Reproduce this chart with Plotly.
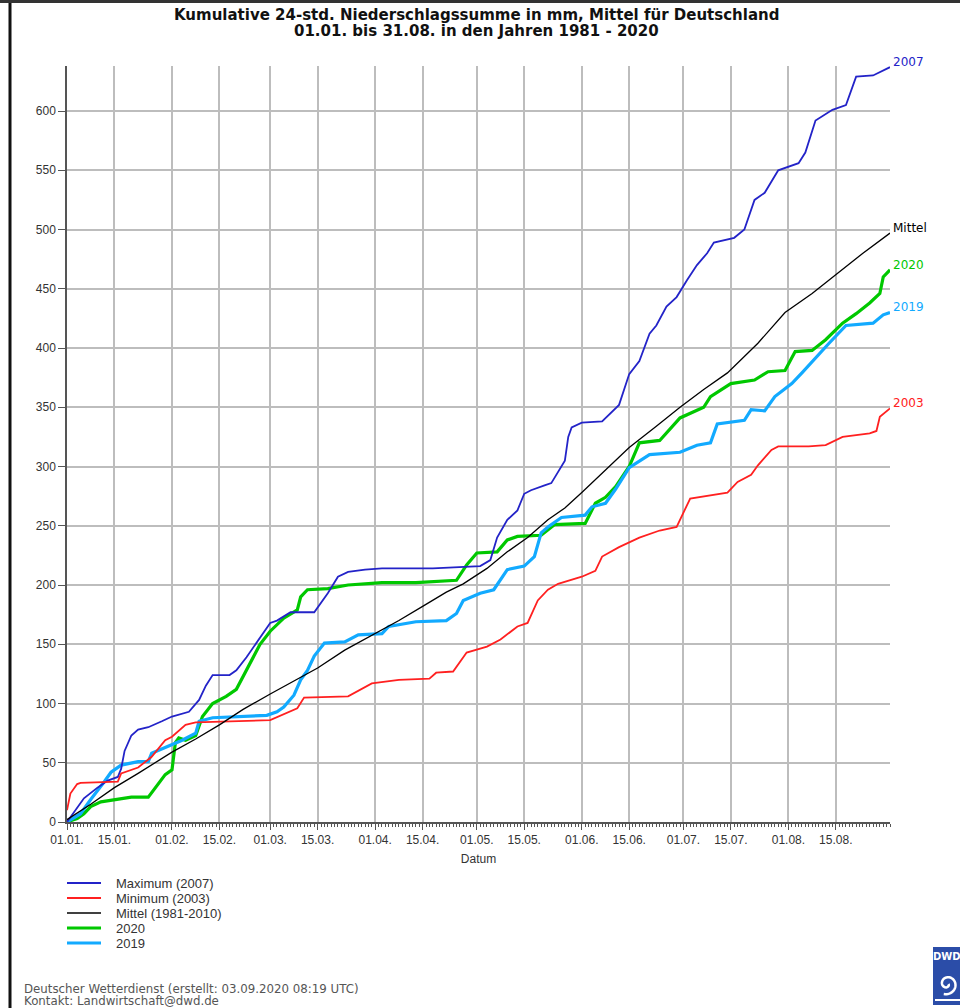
import math
import pandas as pd
import plotly.graph_objects as go

# ---------------- data (day offset from 01.01.2020, cumulative mm) ----------------
max2007_days = [0, 2, 5, 9, 12, 15, 16, 17, 19, 21, 24, 28, 31, 36, 39, 41, 43, 48, 50, 53, 57, 60, 62, 66, 73,
                77, 80, 83, 88, 93, 108, 122, 125, 127, 130, 133, 135, 137, 141, 143, 147, 148, 149, 152, 158,
                163, 166, 169, 172, 174, 177, 180, 183, 186, 189, 191, 197, 200, 203, 206, 210, 216, 218, 221,
                226, 230, 233, 238, 243]
max2007_vals = [0, 8, 20, 29, 35, 38, 45, 60, 73, 78, 80, 85, 89, 93, 103, 115, 124, 124, 128, 139, 156, 168, 170,
                177, 177, 193, 207, 211, 213, 214, 214, 216, 221, 240, 255, 263, 277, 280, 284, 286, 305, 325,
                333, 337, 338, 352, 378, 389, 412, 419, 435, 443, 457, 470, 480, 489, 493, 500, 525, 531, 550,
                556, 565, 592, 601, 605, 629, 630, 637]

min2003_days = [0, 1, 3, 4, 15, 16, 21, 25, 29, 31, 35, 38, 60, 65, 68, 70, 83, 90, 98, 107, 109, 114, 118, 124,
                128, 133, 136, 139, 142, 145, 152, 156, 158, 163, 169, 175, 180, 184, 191, 195, 198, 202, 204,
                208, 210, 219, 224, 229, 237, 239, 240, 243]
min2003_vals = [10, 24, 32, 33, 34, 41, 46, 55, 69, 72, 82, 84, 86, 92, 96, 105, 106, 117, 120, 121, 126, 127, 143,
                148, 154, 165, 168, 187, 196, 201, 207, 212, 224, 232, 240, 246, 249, 273, 276, 278, 287, 293,
                301, 314, 317, 317, 318, 325, 328, 330, 342, 349]

mittel_days = [0, 7, 14, 21, 31, 38, 45, 52, 60, 67, 74, 82, 91, 98, 105, 112, 117, 124, 130, 136, 142, 147, 152,
               159, 166, 174, 181, 188, 195, 204, 212, 220, 227, 235, 243]
mittel_vals = [2, 15, 29, 41, 59, 70, 82, 95, 108, 119, 130, 145, 159, 170, 182, 194, 201, 214, 228, 240, 255, 265,
               278, 297, 316, 334, 350, 365, 379, 404, 430, 446, 462, 480, 497]

y2020_days = [0, 3, 5, 7, 10, 14, 19, 24, 27, 29, 31, 32, 33, 35, 38, 40, 43, 47, 50, 53, 57, 60, 64, 68, 69, 71,
              77, 83, 93, 103, 115, 118, 121, 127, 130, 133, 140, 144, 153, 156, 159, 162, 166, 169, 175, 181,
              188, 190, 196, 203, 207, 212, 215, 220, 224, 229, 233, 237, 240, 241, 243]
y2020_vals = [0, 3, 7, 13, 17, 19, 21, 21, 33, 40, 44, 67, 71, 69, 73, 89, 100, 106, 112, 128, 150, 161, 172, 179,
              190, 196, 197, 200, 202, 202, 204, 217, 227, 228, 238, 241, 242, 251, 252, 269, 274, 283, 300, 320,
              322, 341, 350, 359, 370, 373, 380, 381, 397, 398, 407, 421, 429, 438, 446, 460, 466]

y2019_days = [0, 4, 7, 9, 11, 13, 16, 21, 24, 25, 29, 34, 38, 39, 43, 51, 59, 62, 64, 67, 69, 71, 73, 76, 82, 86,
              93, 95, 103, 112, 115, 117, 122, 126, 130, 135, 138, 140, 142, 146, 153, 155, 159, 162, 166, 172,
              181, 186, 190, 192, 200, 202, 206, 209, 214, 217, 221, 225, 230, 238, 241, 243]
y2019_vals = [0, 7, 19, 26, 34, 42, 48, 51, 51, 58, 63, 69, 75, 85, 88, 89, 90, 93, 97, 107, 120, 128, 140, 151,
              152, 158, 159, 165, 169, 170, 176, 187, 193, 196, 213, 216, 224, 244, 249, 257, 259, 266, 269, 281,
              299, 310, 312, 318, 320, 336, 339, 348, 347, 359, 370, 379, 392, 404, 419, 421, 428, 430]

tick_dates = ["2020-01-01", "2020-01-15", "2020-02-01", "2020-02-15", "2020-03-01", "2020-03-15",
              "2020-04-01", "2020-04-15", "2020-05-01", "2020-05-15", "2020-06-01", "2020-06-15",
              "2020-07-01", "2020-07-15", "2020-08-01", "2020-08-15"]
tick_labels = ["01.01.", "15.01.", "01.02.", "15.02.", "01.03.", "15.03.", "01.04.", "15.04.",
               "01.05.", "15.05.", "01.06.", "15.06.", "01.07.", "15.07.", "01.08.", "15.08."]

series = [
    ("Maximum (2007)", "2007", max2007_days, max2007_vals, "#2323c8", 1.8),
    ("Minimum (2003)", "2003", min2003_days, min2003_vals, "#ff2020", 1.8),
    ("Mittel (1981-2010)", "Mittel", mittel_days, mittel_vals, "#000000", 1.3),
    ("2020", "2020", y2020_days, y2020_vals, "#00c800", 3.2),
    ("2019", "2019", y2019_days, y2019_vals, "#12aaff", 3.2),
]

start = pd.Timestamp("2020-01-01")


def to_dates(days):
    return [start + pd.Timedelta(days=d) for d in days]


# ---------------- geometry helpers (pixel -> paper) ----------------
L, R, T, B = 67, 890, 66, 822
W, H = 960, 1008


def px(x):
    return (x - L) / (R - L)


def py(y):
    return (B - y) / (B - T)


fig = go.Figure()

draw_order = [3, 4, 0, 1, 2]
for i in draw_order:
    name, lab, d, v, col, w = series[i]
    fig.add_trace(go.Scatter(x=to_dates(d), y=v, mode="lines", name=name,
                             line=dict(color=col, width=w), showlegend=False))

annotations = []
shapes = []

# end labels
for name, lab, d, v, col, w in series:
    annotations.append(dict(x=to_dates(d)[-1], y=v[-1], xref="x", yref="y", text=lab, showarrow=False,
                            xanchor="left", yanchor="middle", xshift=1, yshift=5,
                            font=dict(family="DejaVu Sans", size=12, color=col)))

# title
annotations.append(dict(x=px(476), y=py(15), xref="paper", yref="paper", showarrow=False,
                        text="<b>Kumulative 24-std. Niederschlagssumme in mm, Mittel für Deutschland</b>",
                        font=dict(family="DejaVu Sans", size=15, color="#111111"), xanchor="center", yanchor="middle"))
annotations.append(dict(x=px(476), y=py(31), xref="paper", yref="paper", showarrow=False,
                        text="<b>01.01. bis 31.08. in den Jahren 1981 - 2020</b>",
                        font=dict(family="DejaVu Sans", size=15, color="#111111"), xanchor="center", yanchor="middle"))

# manual legend
leg_rows = [883, 898, 913, 928, 943]
for (name, lab, d, v, col, w), yy in zip(series, leg_rows):
    shapes.append(dict(type="line", xref="paper", yref="paper", x0=px(67), x1=px(101), y0=py(yy), y1=py(yy),
                       line=dict(color=col, width=max(w, 1.6))))
    annotations.append(dict(x=px(114), y=py(yy), xref="paper", yref="paper", text=name, showarrow=False,
                            xanchor="left", yanchor="middle",
                            font=dict(family="Liberation Sans", size=13, color="#333333")))

# footer
annotations.append(dict(x=px(22), y=py(989), xref="paper", yref="paper", showarrow=False,
                        text="Deutscher Wetterdienst (erstellt: 03.09.2020 08:19 UTC)", xanchor="left",
                        yanchor="middle", font=dict(family="DejaVu Sans", size=11.8, color="#555555")))
annotations.append(dict(x=px(22), y=py(1001), xref="paper", yref="paper", showarrow=False,
                        text="Kontakt: Landwirtschaft@dwd.de", xanchor="left",
                        yanchor="middle", font=dict(family="DejaVu Sans", size=11.8, color="#555555")))

# borders
shapes.append(dict(type="line", xref="paper", yref="paper", x0=px(10), x1=px(10), y0=py(0), y1=py(H),
                   line=dict(color="#111111", width=3)))
shapes.append(dict(type="line", xref="paper", yref="paper", x0=px(0), x1=px(W), y0=py(1.5), y1=py(1.5),
                   line=dict(color="#333333", width=3)))

# DWD logo
shapes.append(dict(type="rect", xref="paper", yref="paper", x0=px(933), x1=px(962), y0=py(947), y1=py(1005),
                   fillcolor="#2b4da8", line=dict(width=0)))
annotations.append(dict(x=px(947), y=py(956), xref="paper", yref="paper", showarrow=False, text="<b>DWD</b>",
                        xanchor="center", yanchor="middle",
                        font=dict(family="DejaVu Sans", size=10, color="white")))
cx, cy = 947, 984
pts = []
n = 60
for k in range(n + 1):
    t = k / n * 2.6 * math.pi
    r = 1.5 + 9.0 * k / n
    pts.append((cx + r * math.cos(t), cy + r * math.sin(t)))
path = "M " + " L ".join(f"{px(a):.5f},{py(b):.5f}" for a, b in pts)
shapes.append(dict(type="path", xref="paper", yref="paper", path=path, line=dict(color="white", width=2.5)))
shapes.append(dict(type="line", xref="paper", yref="paper", x0=px(935), x1=px(960), y0=py(1000), y1=py(1000),
                   line=dict(color="white", width=2)))

fig.update_layout(
    width=W, height=H,
    margin=dict(l=L, r=W - R, t=T, b=H - B, pad=0),
    paper_bgcolor="white", plot_bgcolor="white",
    showlegend=False,
    annotations=annotations, shapes=shapes,
    xaxis=dict(
        type="date", range=[start, start + pd.Timedelta(days=243)],
        tickmode="array", tickvals=tick_dates, ticktext=tick_labels,
        showgrid=True, gridcolor="#bdbdbd", gridwidth=1.5,
        showline=True, linecolor="#555555", linewidth=1.5,
        ticks="outside", ticklen=6, tickcolor="#555555", tickwidth=1,
        minor=dict(tickmode="linear", tick0="2020-01-01", dtick=86400000, ticks="outside", ticklen=3,
                   tickcolor="#555555", showgrid=False),
        tickfont=dict(family="Liberation Sans", size=12, color="#333333"),
        title=dict(text="Datum", standoff=8, font=dict(family="Liberation Sans", size=12, color="#333333")),
        zeroline=False,
    ),
    yaxis=dict(
        range=[0, 638], tickmode="linear", tick0=0, dtick=50,
        showgrid=True, gridcolor="#bdbdbd", gridwidth=1.5,
        showline=True, linecolor="#555555", linewidth=1.5,
        ticks="outside", ticklen=7, tickcolor="#555555",
        tickfont=dict(family="Liberation Sans", size=12, color="#333333"),
        zeroline=False,
    ),
)

fig.write_html("out.html", config={"displayModeBar": False},
               post_script="document.body.style.margin='0';")
